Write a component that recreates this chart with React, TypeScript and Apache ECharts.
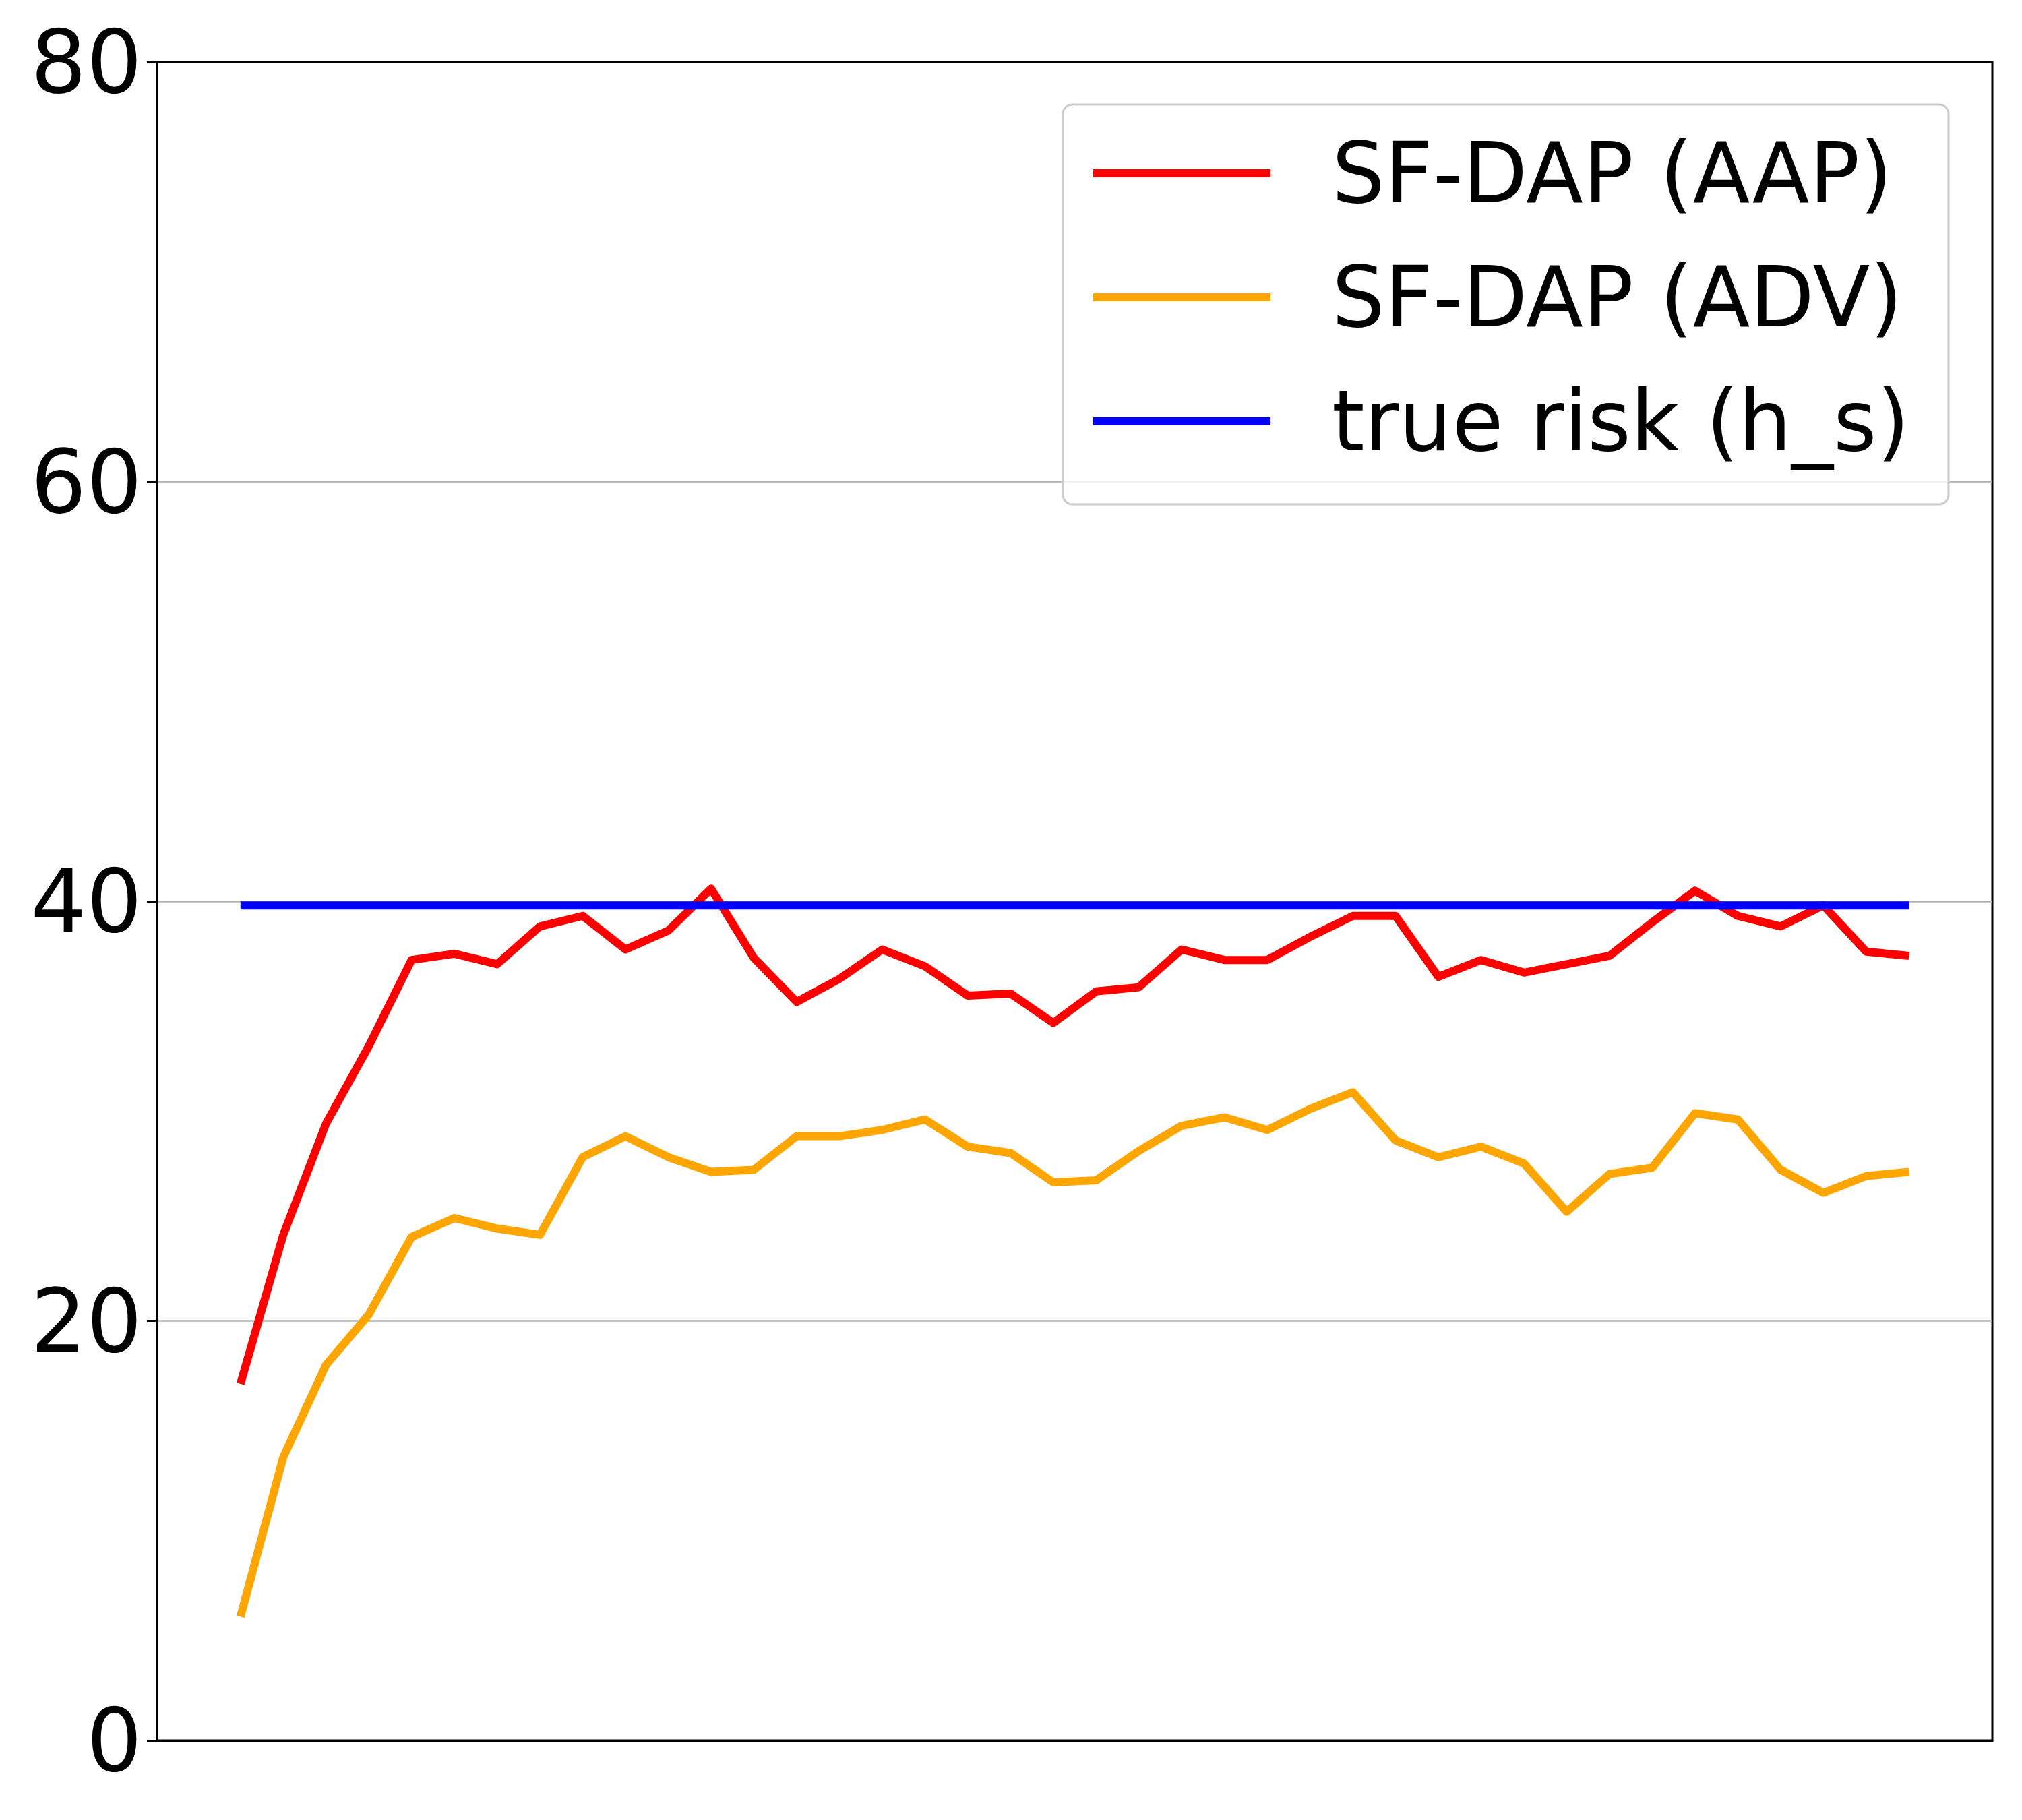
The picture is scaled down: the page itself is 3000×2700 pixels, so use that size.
import React, { useEffect, useRef } from "react";
import * as echarts from "echarts";

const steps: number[] = Array.from({ length: 40 }, (_, i) => i);

const aapValues: number[] = [
  17.0, 24.1, 29.4, 33.1, 37.2, 37.5, 37.0, 38.8, 39.3, 37.7,
  38.6, 40.6, 37.3, 35.2, 36.3, 37.7, 36.9, 35.5, 35.6, 34.2,
  35.7, 35.9, 37.7, 37.2, 37.2, 38.3, 39.3, 39.3, 36.4, 37.2,
  36.6, 37.0, 37.4, 39.0, 40.5, 39.3, 38.8, 39.8, 37.6, 37.4,
];

const advValues: number[] = [
  5.9, 13.5, 17.9, 20.3, 24.0, 24.9, 24.4, 24.1, 27.8, 28.8,
  27.8, 27.1, 27.2, 28.8, 28.8, 29.1, 29.6, 28.3, 28.0, 26.6,
  26.7, 28.1, 29.3, 29.7, 29.1, 30.1, 30.9, 28.6, 27.8, 28.3,
  27.5, 25.2, 27.0, 27.3, 29.9, 29.6, 27.2, 26.1, 26.9, 27.1,
];

const trueRisk = 39.8;

const seriesNames: string[] = ["SF-DAP (AAP)", "SF-DAP (ADV)", "true risk (h_s)"];
const seriesColors: string[] = ["#ff0000", "#ffa500", "#0000ff"];
const yTicks: number[] = [0, 20, 40, 60, 80];

const FONT = "DejaVu Sans";

export default function App() {
  const ref = useRef<HTMLDivElement>(null);
  useEffect(() => {
    document.body.style.margin = "0";
    if (!ref.current) return;
    const chart = echarts.init(ref.current, undefined, { renderer: "svg" });
    const xMin = steps[0] - (steps[steps.length - 1] - steps[0]) * 0.05;
    const xMax = steps[steps.length - 1] + (steps[steps.length - 1] - steps[0]) * 0.05;
    const riskData = [
      [steps[0], trueRisk],
      [steps[steps.length - 1], trueRisk],
    ];
    chart.setOption({
      animation: false,
      backgroundColor: "#ffffff",
      textStyle: { fontFamily: FONT },
      grid: {
        left: 233,
        right: 44,
        top: 92,
        bottom: 118,
        show: true,
        borderColor: "#000000",
        borderWidth: 3,
        backgroundColor: "transparent",
      },
      xAxis: {
        type: "value",
        min: xMin,
        max: xMax,
        axisLine: { show: true, onZero: false, lineStyle: { color: "#000", width: 3 } },
        axisTick: { show: false },
        axisLabel: { show: false },
        splitLine: { show: false },
      },
      yAxis: {
        type: "value",
        min: yTicks[0],
        max: yTicks[yTicks.length - 1],
        interval: yTicks[1] - yTicks[0],
        axisLine: { show: true, onZero: false, lineStyle: { color: "#000", width: 3 } },
        axisTick: { show: true, inside: false, length: 15, lineStyle: { color: "#000", width: 3 } },
        axisLabel: {
          show: true,
          fontFamily: FONT,
          fontSize: 130,
          color: "#000",
          margin: 22,
        },
        splitLine: {
          show: true,
          lineStyle: { color: "#b0b0b0", width: 2.5 },
          showMinLine: false,
          showMaxLine: false,
        },
      },
      graphic: [
        {
          type: "rect",
          z: 3,
          shape: { x: 1577, y: 155, width: 1314, height: 593, r: 14 },
          style: { fill: "rgba(255,255,255,0.8)", stroke: "#cccccc", lineWidth: 3 },
        },
      ],
      legend: {
        show: true,
        z: 5,
        orient: "vertical",
        left: 1622,
        top: 195,
        padding: 0,
        itemGap: 60,
        itemWidth: 263,
        itemHeight: 12,
        icon: "rect",
        align: "left",
        textStyle: {
          fontFamily: FONT,
          fontSize: 124,
          lineHeight: 124,
          color: "#000",
          padding: [0, 0, 0, 86],
        },
        data: seriesNames.map((n, i) => ({ name: n, itemStyle: { color: seriesColors[i] } })),
      },
      series: [
        {
          name: seriesNames[0],
          type: "line",
          data: steps.map((s, i) => [s, aapValues[i]]),
          showSymbol: false,
          symbol: "none",
          lineStyle: { color: seriesColors[0], width: 12, join: "round" },
          itemStyle: { color: seriesColors[0] },
          z: 2,
        },
        {
          name: seriesNames[1],
          type: "line",
          data: steps.map((s, i) => [s, advValues[i]]),
          showSymbol: false,
          symbol: "none",
          lineStyle: { color: seriesColors[1], width: 12, join: "round" },
          itemStyle: { color: seriesColors[1] },
          z: 2,
        },
        {
          name: seriesNames[2],
          type: "line",
          data: riskData,
          showSymbol: false,
          symbol: "none",
          lineStyle: { color: seriesColors[2], width: 12 },
          itemStyle: { color: seriesColors[2] },
          z: 2,
        },
      ],
    });
    return () => chart.dispose();
  }, []);
  return <div ref={ref} style={{ width: 3000, height: 2700 }} />;
}
